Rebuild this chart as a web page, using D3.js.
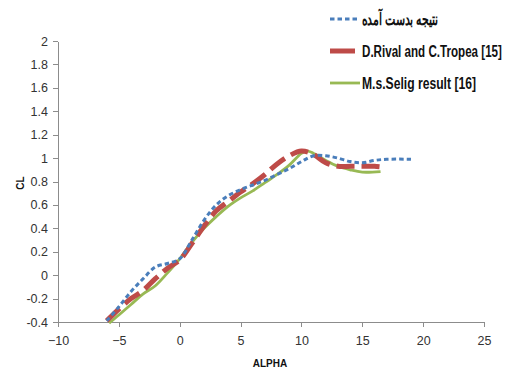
<!DOCTYPE html>
<html lang="en">
<head>
<meta charset="utf-8">
<title>CL vs ALPHA</title>
<style>
body{
  margin: 0;
  background: #fff;
}
.axis text{
  font: 12.5px "Liberation Sans", Arial, sans-serif;
  fill: #333;
}
.axis path, .axis line{
  fill: none;
  stroke: #8c8c8c;
  shape-rendering: crispEdges;
}
.legend text{
  font: bold 17px "Liberation Sans", Arial, sans-serif;
  fill: #111;
}
.title{
  font: bold 10px "Liberation Sans", Arial, sans-serif;
  fill: #111;
}
</style>
</head>
<body>
<div id="chart"></div>
<script src="https://d3js.org/d3.v7.min.js"></script>
<script>
  // series: [alpha, CL]
  const ours = [[-6,-0.39],[-5,-0.27],[-4,-0.14],[-3,-0.03],[-2,0.07],[-1,0.1],[0,0.14],[1,0.3],[2,0.47],[3,0.6],[4,0.68],[5,0.73],[6,0.77],[7,0.81],[8,0.86],[9,0.91],[10,0.97],[11,1.02],[12,1.02],[13,1.0],[14,0.97],[15,0.96],[16,0.98],[17,0.99],[19,0.99]];
  const rival = [[-6,-0.39],[-5,-0.29],[-4,-0.2],[-3,-0.13],[-2,-0.03],[-1,0.06],[0,0.13],[1,0.27],[2,0.42],[3,0.55],[4,0.63],[5,0.71],[6,0.78],[7,0.86],[8,0.95],[9,1.02],[10,1.06],[11,1.03],[12,0.96],[13,0.93],[14,0.93],[15,0.93],[16,0.93],[17,0.92]];
  const selig = [[-5.8,-0.41],[-5,-0.34],[-4,-0.25],[-3,-0.16],[-2,-0.09],[-1,0.02],[0,0.14],[1,0.28],[2,0.4],[3,0.5],[4,0.59],[5,0.66],[6,0.72],[7,0.79],[8,0.86],[9,0.94],[10,1.04],[10.5,1.06],[11,1.04],[12,0.98],[13,0.93],[14,0.9],[15,0.88],[16.5,0.885]];

  const xTicks = [-10, -5, 0, 5, 10, 15, 20, 25];
  const yTicks = [-0.4, -0.2, 0, 0.2, 0.4, 0.6, 0.8, 1, 1.2, 1.4, 1.6, 1.8, 2];

  const seriesNames = ["نتیجه بدست آمده", "D.Rival and C.Tropea [15]", "M.s.Selig result [16]"];

  const width = 512, height = 372;

  const svg = d3.select("#chart")
    .append("svg")
    .attr("width", width)
    .attr("height", height);

  const x = d3.scaleLinear().domain([-10, 25]).range([58, 484]);
  const y = d3.scaleLinear().domain([-0.4, 2]).range([322, 41]);

  // axes
  svg.append("g")
    .attr("class", "axis")
    .attr("transform", `translate(0,${y(-0.4)})`)
    .call(d3.axisBottom(x).tickValues(xTicks).tickSize(5).tickSizeOuter(0).tickPadding(9).tickFormat(d3.format("d")));

  svg.append("g")
    .attr("class", "axis")
    .attr("transform", `translate(${x(-10)},0)`)
    .call(d3.axisLeft(y).tickValues(yTicks).tickSize(5).tickSizeOuter(0).tickPadding(5).tickFormat(d => String(+d.toFixed(1))));

  // axis titles
  svg.append("text")
    .attr("class", "title")
    .attr("x", 270).attr("y", 367)
    .attr("text-anchor", "middle")
    .text("ALPHA");

  svg.append("text")
    .attr("class", "title")
    .attr("transform", "translate(24,183) rotate(-90)")
    .attr("text-anchor", "middle")
    .text("CL");

  const line = d3.line()
    .x(d => x(d[0]))
    .y(d => y(d[1]))
    .curve(d3.curveCatmullRom);

  const styles = [
    { data: ours, color: "#4a7ebb", w: 3, dash: "4.5,3" },
    { data: rival, color: "#be4b48", w: 5, dash: "18,7" },
    { data: selig, color: "#98b954", w: 2.8, dash: null }
  ];

  // draw green first, then red, then blue
  [2, 1, 0].forEach(i => {
    const s = styles[i];
    svg.append("path")
      .datum(s.data)
      .attr("d", line)
      .attr("fill", "none")
      .attr("stroke", s.color)
      .attr("stroke-width", s.w)
      .attr("stroke-dasharray", s.dash);
  });

  // legend
  const legend = svg.append("g").attr("class", "legend");
  const legY = [19, 51, 83];
  const legDash = ["4.5,3", null, null];
  const legLen = [30, 25, 30];
  const legTextW = [78, 140, 114];
  seriesNames.forEach((name, i) => {
    legend.append("line")
      .attr("x1", 330).attr("x2", 330 + legLen[i])
      .attr("y1", legY[i]).attr("y2", legY[i])
      .attr("stroke", styles[i].color)
      .attr("stroke-width", styles[i].w)
      .attr("stroke-dasharray", legDash[i]);
    const t = legend.append("text")
      .attr("direction", "ltr")
      .text(name);
    // squeeze the text horizontally to the condensed width of the original
    const sx = legTextW[i] / t.node().getComputedTextLength();
    t.attr("transform", `translate(362,${legY[i] + 6}) scale(${sx},1)`);
  });
</script>
</body>
</html>
